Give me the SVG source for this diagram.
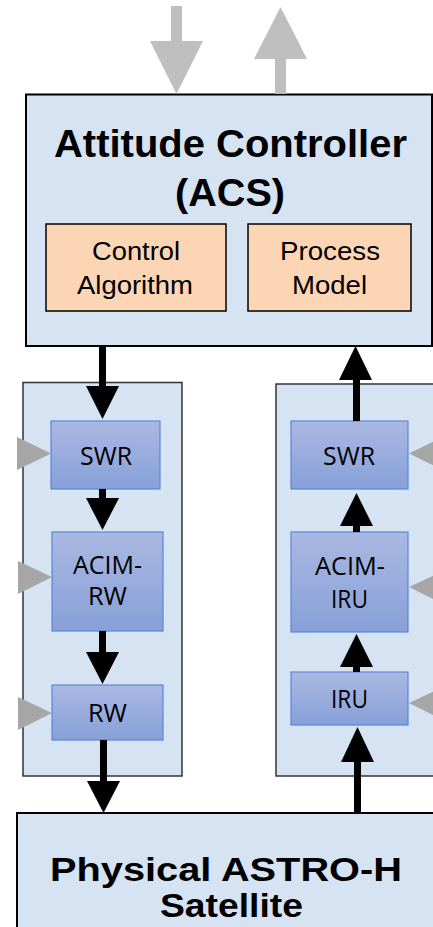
<svg xmlns="http://www.w3.org/2000/svg" width="433" height="927" viewBox="0 0 433 927">
<defs>
<linearGradient id="blueGrad" x1="0" y1="0" x2="0" y2="1">
<stop offset="0" stop-color="#aab8e2"/>
<stop offset="1" stop-color="#87a0d8"/>
</linearGradient>
<style>
.big{fill:#d5e3f3;stroke:#000;stroke-width:2}
.cont{fill:#d5e3f3;stroke:#333;stroke-width:1.5}
.orange{fill:#fcd5b4;stroke:#000;stroke-width:1.5}
.blue{fill:url(#blueGrad);stroke:#5b86d6;stroke-width:1.2}
.title{font-family:"Liberation Sans",Arial,sans-serif;font-weight:bold;font-size:38px;fill:#000;text-anchor:middle}
.title2{font-family:"Liberation Sans",Arial,sans-serif;font-weight:bold;font-size:34px;fill:#000;text-anchor:middle}
.med{font-family:"Liberation Sans",Arial,sans-serif;font-size:25px;fill:#000;text-anchor:middle}
.small{font-family:"Open Sans","Noto Sans",sans-serif;font-size:25px;fill:#000;text-anchor:middle}
.blk{fill:#000}
.gray{fill:#bfbfbf}
.gray2{fill:#a6a6a6}
</style>
</defs>

<g id="acs">
<rect class="big" x="26" y="94.5" width="406" height="251.5"/>
<text class="title" x="230.5" y="157" textLength="353" lengthAdjust="spacingAndGlyphs">Attitude Controller</text>
<text class="title" x="230" y="206" textLength="110" lengthAdjust="spacingAndGlyphs">(ACS)</text>
</g>
<g id="control-algorithm">
<rect class="orange" x="46" y="224" width="180" height="87"/>
<text class="med" x="136" y="260" textLength="88" lengthAdjust="spacingAndGlyphs">Control</text>
<text class="med" x="135" y="294" textLength="116" lengthAdjust="spacingAndGlyphs">Algorithm</text>
</g>
<g id="process-model">
<rect class="orange" x="248" y="224" width="163" height="87"/>
<text class="med" x="330" y="260" textLength="100" lengthAdjust="spacingAndGlyphs">Process</text>
<text class="med" x="329.5" y="294" textLength="75" lengthAdjust="spacingAndGlyphs">Model</text>
</g>

<g id="actuator-chain">
<rect class="cont" x="23" y="382.5" width="159" height="393.5"/>
</g>
<g id="sensor-chain">
<rect class="cont" x="276" y="384" width="160" height="392"/>
</g>

<g id="swr-left">
<rect class="blue" x="51" y="421" width="109" height="68"/>
<text class="small" x="106" y="465" textLength="52" lengthAdjust="spacingAndGlyphs">SWR</text>
</g>
<g id="acim-rw">
<rect class="blue" x="52" y="532" width="111" height="99"/>
<text class="small" x="107.5" y="574" textLength="69" lengthAdjust="spacingAndGlyphs">ACIM-</text>
<text class="small" x="107.5" y="605" textLength="39" lengthAdjust="spacingAndGlyphs">RW</text>
</g>
<g id="rw">
<rect class="blue" x="52" y="685" width="111" height="55"/>
<text class="small" x="107.5" y="722" textLength="39" lengthAdjust="spacingAndGlyphs">RW</text>
</g>

<g id="swr-right">
<rect class="blue" x="291" y="421" width="117" height="68"/>
<text class="small" x="349" y="465" textLength="52" lengthAdjust="spacingAndGlyphs">SWR</text>
</g>
<g id="acim-iru">
<rect class="blue" x="291" y="532" width="117" height="100"/>
<text class="small" x="350" y="575" textLength="70" lengthAdjust="spacingAndGlyphs">ACIM-</text>
<text class="small" x="349.5" y="608" textLength="37" lengthAdjust="spacingAndGlyphs">IRU</text>
</g>
<g id="iru">
<rect class="blue" x="291" y="672" width="117" height="53"/>
<text class="small" x="349.5" y="708" textLength="37" lengthAdjust="spacingAndGlyphs">IRU</text>
</g>

<g id="satellite">
<rect class="big" x="17" y="813" width="430" height="130"/>
<text class="title2" x="226" y="881" textLength="352" lengthAdjust="spacingAndGlyphs">Physical ASTRO-H</text>
<text class="title2" x="231.5" y="917" textLength="143" lengthAdjust="spacingAndGlyphs">Satellite</text>
</g>

<g id="connectors">
<!-- top gray arrows -->
<rect class="gray" x="171" y="6" width="11" height="36"/>
<polygon class="gray" points="150,41 203,41 176.5,94"/>
<polygon class="gray" points="254,59 307,59 280.5,7"/>
<rect class="gray" x="275" y="58" width="11" height="36"/>

<!-- left column black arrows -->
<rect class="blk" x="99" y="346" width="7" height="42"/>
<polygon class="blk" points="86,386 119,386 102.5,419"/>
<rect class="blk" x="99" y="489" width="7" height="11"/>
<polygon class="blk" points="86,498 119,498 102.5,530"/>
<rect class="blk" x="99" y="631" width="7" height="23"/>
<polygon class="blk" points="86,652 119,652 102.5,684"/>
<rect class="blk" x="100" y="740" width="7" height="43"/>
<polygon class="blk" points="87,781 120,781 103.5,813"/>

<!-- right column black arrows -->
<rect class="blk" x="354" y="760" width="7" height="53"/>
<polygon class="blk" points="341,762 374,762 357.5,727"/>
<rect class="blk" x="353" y="665" width="7" height="7"/>
<polygon class="blk" points="340,667 373,667 356.5,634"/>
<rect class="blk" x="353" y="524" width="7" height="8"/>
<polygon class="blk" points="340,526 373,526 356.5,493"/>
<rect class="blk" x="353" y="378" width="7" height="43"/>
<polygon class="blk" points="339,380 372,380 355.5,346"/>

<!-- left gray side arrows -->
<polygon class="gray2" points="17,437 17,470 51,453.5"/>
<polygon class="gray2" points="18,561 18,594 52,577"/>
<polygon class="gray2" points="18,697 18,730 52,713"/>
<!-- right gray side arrows -->
<polygon class="gray2" points="443,437 443,470 409,453.5"/>
<polygon class="gray2" points="443,571 443,604 409,587"/>
<polygon class="gray2" points="443,687 443,720 409,703"/>
</g>
</svg>
